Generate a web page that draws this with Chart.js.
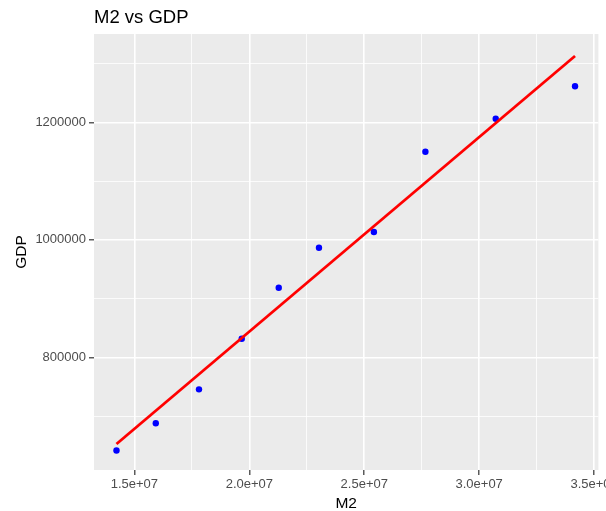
<!DOCTYPE html>
<html><head><meta charset="utf-8">
<script src="https://cdn.jsdelivr.net/npm/chart.js@4"></script>
<style>html,body{margin:0;padding:0;background:#fff}#wrap{width:606px;height:511px;position:relative}</style>
</head><body><div id="wrap"><canvas id="c"></canvas></div>
<script>
const m2 = [14.22e6, 15.93e6, 17.81e6, 19.67e6, 21.28e6, 23.03e6, 25.42e6, 27.66e6, 30.72e6, 34.17e6];
const gdp = [641400, 687700, 745500, 831700, 918500, 986600, 1013300, 1150000, 1206100, 1261300];
const fitM2 = [14.22e6, 34.17e6];
const fitGdp = [652400, 1312900];
const xMajorTicks = [1.5e7, 2.0e7, 2.5e7, 3.0e7, 3.5e7];
const xTickLabels = ['1.5e+07', '2.0e+07', '2.5e+07', '3.0e+07', '3.5e+07'];
const xMinorTicks = [1.75e7, 2.25e7, 2.75e7, 3.25e7];
const yMajorTicks = [800000, 1000000, 1200000];
const yTickLabels = ['800000', '1000000', '1200000'];
const yMinorTicks = [700000, 900000, 1100000, 1300000];

const FONT = "'Liberation Sans', Arial, sans-serif";
const panelBg = {
  id: 'panelBg',
  beforeDraw(chart) {
    const { ctx, chartArea: a } = chart;
    ctx.save();
    ctx.fillStyle = '#EBEBEB';
    ctx.fillRect(a.left, a.top, a.right - a.left, a.bottom - a.top);
    ctx.restore();
  }
};
function isMajor(list, v) { return list.some(t => Math.abs(t - v) < 1e-6 * Math.abs(t)); }
function labelFor(majors, labels, v) {
  const i = majors.findIndex(t => Math.abs(t - v) < 1e-6 * Math.abs(t));
  return i >= 0 ? labels[i] : '';
}
function gridOpts(majors) {
  return {
    color: '#FFFFFF',
    lineWidth: c => (c.tick && isMajor(majors, c.tick.value)) ? 1.6 : 0.8,
    tickColor: c => (c.tick && isMajor(majors, c.tick.value)) ? '#333333' : 'rgba(0,0,0,0)',
    tickWidth: 1.2,
    tickLength: 5,
    drawTicks: true
  };
}

new Chart(document.getElementById('c'), {
  type: 'scatter',
  data: {
    datasets: [
      {
        label: 'fit',
        data: fitM2.map((x, i) => ({ x, y: fitGdp[i] })),
        showLine: true,
        borderColor: '#FF0000',
        borderWidth: 2.8,
        pointRadius: 0,
        order: 0
      },
      {
        label: 'GDP',
        data: m2.map((x, i) => ({ x, y: gdp[i] })),
        backgroundColor: '#0000FF',
        borderColor: '#0000FF',
        borderWidth: 0,
        pointRadius: 3.2,
        order: 1
      }
    ]
  },
  options: {
    responsive: true,
    maintainAspectRatio: false,
    animation: false,
    layout: { padding: { left: 0, top: 0, right: 7.6, bottom: 0 } },
    plugins: {
      legend: { display: false },
      tooltip: { enabled: false },
      title: {
        display: true,
        text: 'M2 vs GDP',
        align: 'start',
        fullSize: false,
        color: '#000000',
        font: { family: FONT, size: 18.5, weight: 'normal', lineHeight: 1.2 },
        padding: { top: 6.5, bottom: 5.3 }
      }
    },
    scales: {
      x: {
        type: 'linear',
        min: 13242000,
        max: 35187000,
        border: { display: false },
        grid: gridOpts(xMajorTicks),
        afterBuildTicks: s => { s.ticks = xMajorTicks.concat(xMinorTicks).sort((a, b) => a - b).map(v => ({ value: v })); },
        afterFit: s => { s.height = 41; s.paddingLeft = 0; s.paddingRight = 0; },
        ticks: {
          autoSkip: false, maxRotation: 0, minRotation: 0, padding: 2,
          color: '#4D4D4D',
          font: { family: FONT, size: 13 },
          callback: v => labelFor(xMajorTicks, xTickLabels, v)
        },
        title: {
          display: true, text: 'M2', color: '#000000',
          font: { family: FONT, size: 15.5, lineHeight: 1 },
          padding: { top: 0, bottom: 0 }
        }
      },
      y: {
        type: 'linear',
        min: 608200,
        max: 1350300,
        border: { display: false },
        grid: gridOpts(yMajorTicks),
        afterBuildTicks: s => { s.ticks = yMajorTicks.concat(yMinorTicks).sort((a, b) => a - b).map(v => ({ value: v })); },
        afterFit: s => { s.width = 94; s.paddingTop = 0; s.paddingBottom = 0; },
        ticks: {
          autoSkip: false, padding: 3,
          color: '#4D4D4D',
          font: { family: FONT, size: 13 },
          callback: v => labelFor(yMajorTicks, yTickLabels, v)
        },
        title: {
          display: true, text: 'GDP', color: '#000000',
          font: { family: FONT, size: 15.5, lineHeight: 1.2 },
          padding: { top: 12.7, bottom: 0 }
        }
      }
    }
  },
  plugins: [panelBg]
});
</script>
</body></html>
